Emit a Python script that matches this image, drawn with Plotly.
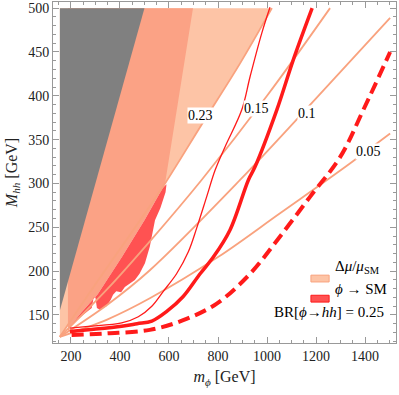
import plotly.graph_objects as go

# contours of delta mu / mu_SM  (m_phi [GeV], M_hh [GeV])
dmu_levels = ["0.23", "0.15", "0.1", "0.05"]
dmu_x = [
    [155, 300, 450, 584, 733, 890, 1020],
    [155, 350, 522, 733, 1000, 1257],
    [155, 350, 522, 890, 1200, 1502],
    [155, 350, 522, 800, 1053, 1300, 1502],
]
dmu_y = [
    [125, 185, 245, 300, 367, 437, 500],
    [125, 180, 234, 304, 400, 500],
    [125, 162, 201, 304, 397, 489],
    [125, 145, 169, 216, 266, 315, 357],
]
# where the contour labels sit
label_x = [727, 958, 1162, 1413]
label_y = [378, 386, 380, 336]

# phi -> SM contours
thin_x = [196, 271, 407, 475, 530, 577, 631, 679, 713, 754, 788, 829, 897, 931, 978, 1012]
thin_y = [135, 137, 141, 148, 160, 177, 197, 222, 249, 285, 315, 342, 384, 422, 471, 501]
thick_x = [196, 271, 407, 470, 530, 591, 658, 727, 781, 849, 924, 951, 1040, 1107, 1184]
thick_y = [131, 133, 137, 140, 143, 154, 171, 197, 216, 247, 304, 319, 384, 441, 500]
dash_x = [203, 350, 522, 658, 795, 931, 1046, 1176, 1298, 1393, 1502]
dash_y = [127, 129, 133, 144, 163, 197, 237, 285, 330, 384, 450]

# excluded regions
gray_x = [155, 500, 155]
gray_y = [155, 500, 500]
dark_x = [188, 188, 698, 584, 575, 500, 408, 310, 240, 200, 188]
dark_y = [130, 500, 500, 300, 295, 258, 216, 174, 152, 138, 130]
red_x = [168, 200, 240, 310, 408, 500, 575, 590, 586, 565, 543, 522, 502, 480, 461, 420,
         405, 385, 372, 362, 345, 318, 306, 300, 293, 285, 249, 216, 188, 168]
red_y = [128, 138, 152, 174, 216, 258, 295, 299, 290, 272, 258, 228, 209, 197, 190, 182,
         176, 177, 173, 167, 160, 156, 158, 170, 170, 158, 150, 142, 134, 128]

LIGHT = "#fdc4a6"
DARK = "#fba285"
RED_FILL = "#ff5252"
SALMON_LINE = "#f9a27e"
RED = "#ff1a1a"
FONT = "'Liberation Serif', 'DejaVu Serif', serif"

fig = go.Figure()

# light salmon: left of the 0.23 contour
fig.add_trace(go.Scatter(x=dmu_x[0] + [155], y=dmu_y[0] + [500], fill="toself",
                         fillcolor=LIGHT, mode="none", hoverinfo="skip"))
fig.add_trace(go.Scatter(x=dark_x, y=dark_y, fill="toself", fillcolor=DARK,
                         mode="none", hoverinfo="skip"))
fig.add_trace(go.Scatter(x=gray_x, y=gray_y, fill="toself", fillcolor="#808080",
                         mode="none", hoverinfo="skip"))
fig.add_trace(go.Scatter(x=red_x, y=red_y, fill="toself", fillcolor=RED_FILL,
                         mode="none", hoverinfo="skip"))

for xs, ys in zip(dmu_x, dmu_y):
    fig.add_trace(go.Scatter(x=xs, y=ys, mode="lines", line_shape="spline",
                             line=dict(color=SALMON_LINE, width=1.8)))

fig.add_trace(go.Scatter(x=thin_x, y=thin_y, mode="lines", line_shape="spline",
                         line=dict(color=RED, width=1.3)))
fig.add_trace(go.Scatter(x=thick_x, y=thick_y, mode="lines", line_shape="spline",
                         line=dict(color=RED, width=3.5)))
fig.add_trace(go.Scatter(x=dash_x, y=dash_y, mode="lines", line_shape="spline",
                         line=dict(color=RED, width=4, dash="12px,6px")))

for lx, ly, txt in zip(label_x, label_y, dmu_levels):
    fig.add_annotation(x=lx, y=ly, text=txt, showarrow=False, bgcolor="white",
                       borderpad=0, font=dict(family=FONT, size=14, color="black"))

# legend drawn by hand
fig.add_shape(type="rect", xref="paper", yref="paper", x0=0.752, x1=0.805, y0=0.179, y1=0.199,
              fillcolor=LIGHT, line=dict(color=SALMON_LINE, width=1))
fig.add_shape(type="rect", xref="paper", yref="paper", x0=0.752, x1=0.805, y0=0.120, y1=0.140,
              fillcolor=RED_FILL, line=dict(color=RED, width=1))
fig.add_annotation(xref="paper", yref="paper", x=0.815, y=0.19, xanchor="left",
                   text="Δ<i>μ</i>/<i>μ</i><sub>SM</sub>", showarrow=False,
                   font=dict(family=FONT, size=15, color="black"))
fig.add_annotation(xref="paper", yref="paper", x=0.815, y=0.129, xanchor="left",
                   text="<i>ϕ</i> → SM", showarrow=False,
                   font=dict(family=FONT, size=15, color="black"))
fig.add_annotation(xref="paper", yref="paper", x=0.97, y=0.062, xanchor="right",
                   text="BR[<i>ϕ</i>→<i>hh</i>] = 0.25", showarrow=False,
                   font=dict(family=FONT, size=15, color="black"))

axis_common = dict(
    showgrid=False, zeroline=False, showline=True, linecolor="#999999", linewidth=1,
    mirror="ticks", ticks="inside", ticklen=6, tickcolor="#999999", automargin=False,
    tickfont=dict(family=FONT, size=14, color="#222222"),
)
fig.update_xaxes(range=[127, 1526], tick0=0, dtick=200,
                 minor=dict(dtick=50, ticks="inside", ticklen=3, tickcolor="#999999"),
                 title=dict(text="<i>m</i><sub><i>ϕ</i></sub> [GeV]", standoff=8,
                            font=dict(family=FONT, size=16, color="#222222")),
                 **axis_common)
fig.update_yaxes(range=[118, 507], tick0=0, dtick=50,
                 minor=dict(dtick=10, ticks="inside", ticklen=3, tickcolor="#999999"),
                 title=dict(text="<i>M</i><sub><i>hh</i></sub> [GeV]", standoff=6,
                            font=dict(family=FONT, size=16, color="#222222")),
                 **axis_common)

fig.update_layout(
    width=399, height=395, showlegend=False,
    margin=dict(l=53, r=3, t=2, b=52),
    plot_bgcolor="white", paper_bgcolor="white",
    font=dict(family=FONT),
)

# page default margin would shift the figure by 8px
fig.write_html("out.html", config={"displayModeBar": False},
               post_script="document.body.style.margin='0';")
